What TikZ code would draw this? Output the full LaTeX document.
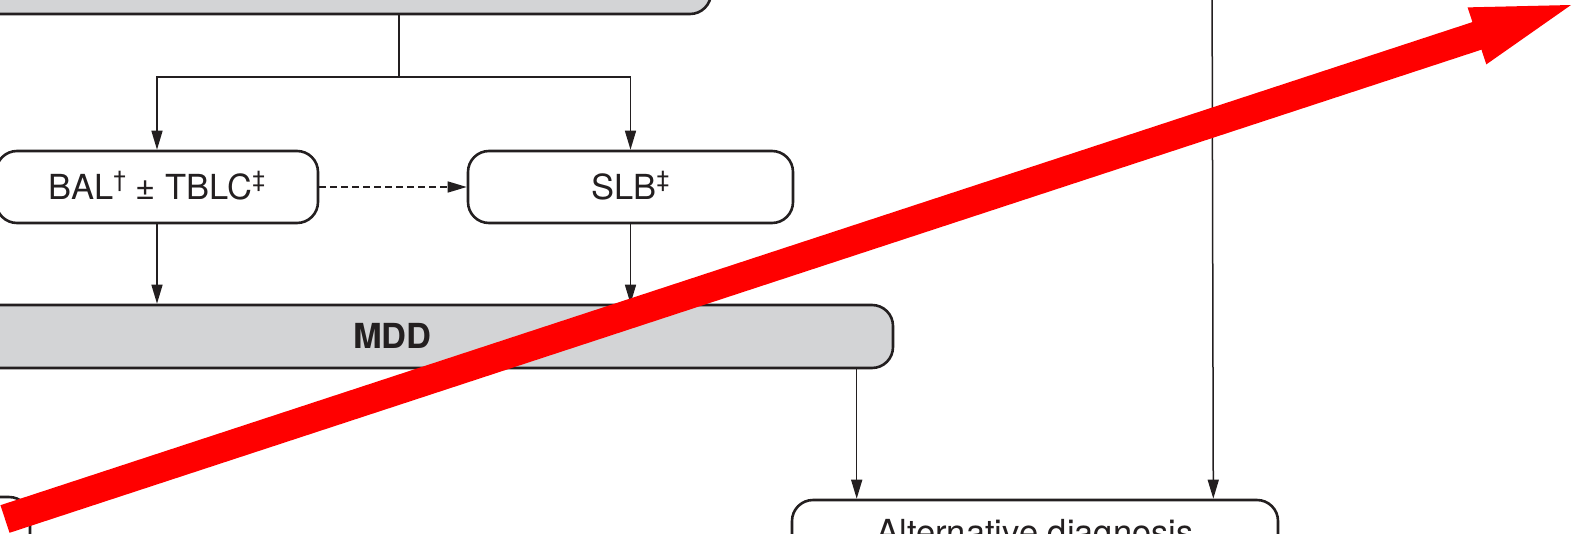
\documentclass[tikz,border=0pt]{standalone}
\usepackage{fontspec}
\setmainfont{TeX Gyre Heros}
\usetikzlibrary{arrows.meta}
\definecolor{ink}{RGB}{35,31,32}
\definecolor{panel}{RGB}{211,212,214}
% small raised reference marks
\newcommand\upmark[1]{\raisebox{12pt}{\fontsize{23}{23}\selectfont #1}}
\begin{document}
\begin{tikzpicture}[x=1pt,y=-1pt,
  box/.style={draw=ink, line width=2.6pt, rounded corners=21pt, inner sep=0pt,
    text=ink, font=\fontsize{34.5}{40}\selectfont, text height=24.5pt, text depth=0pt},
  greybox/.style={box, fill=panel},
  link/.style={draw=ink, line width=1.5pt},
  arr/.style={link, -{Triangle[length=19pt,width=11pt]}}
]
\useasboundingbox (0,0) rectangle (1576,533);
\clip (0,0) rectangle (1576,533);

% boxes
\node[greybox, minimum width=1111pt, minimum height=100pt] (head) at (155.5,-36) {};
\node[box, minimum width=322pt, minimum height=72pt] (bal) at (157,187)
  {BAL\upmark{†} ± TBLC\upmark{‡}};
\node[box, minimum width=325pt, minimum height=72pt] (slb) at (630.5,187) {SLB\upmark{‡}};
\node[greybox, minimum width=1001pt, minimum height=63pt,
  font=\fontsize{34.5}{40}\selectfont\bfseries] (mdd) at (392.5,336.5) {MDD};
\node[box, minimum width=486pt, minimum height=65pt] (alt) at (1035,532.5)
  {Alternative diagnosis};
\node[box, minimum width=330pt, minimum height=72pt] (side) at (-135,533) {};

% connectors
\coordinate (split) at (399,77);
\draw[link] (head.south -| split) -- (split);
\draw[arr] (split) -| (bal.north);
\draw[arr] (split) -| (slb.north);
\draw[arr, dash pattern=on 7pt off 4pt] (bal.east) -- (slb.west);
\draw[arr] (bal.south) -- (bal.south |- mdd.north);
\draw[arr] (slb.south) -- (slb.south |- mdd.north);
\coordinate (altL) at ([xshift=66pt]alt.north west);
\coordinate (altR) at ([xshift=-66pt]alt.north east);
\draw[arr] (mdd.south -| altL) -- (altL);
\coordinate (feed) at (1212,-40);
\draw[arr] (feed) -- (altR);

% red overlay arrow
\fill[red] (0.48,505.2) -- (1472.42,22.1) -- (1467.58,7.38) -- (1571,5)
  -- (1486.30,64.38) -- (1481.46,49.66) -- (9.52,532.8) -- cycle;
\end{tikzpicture}
\end{document}
